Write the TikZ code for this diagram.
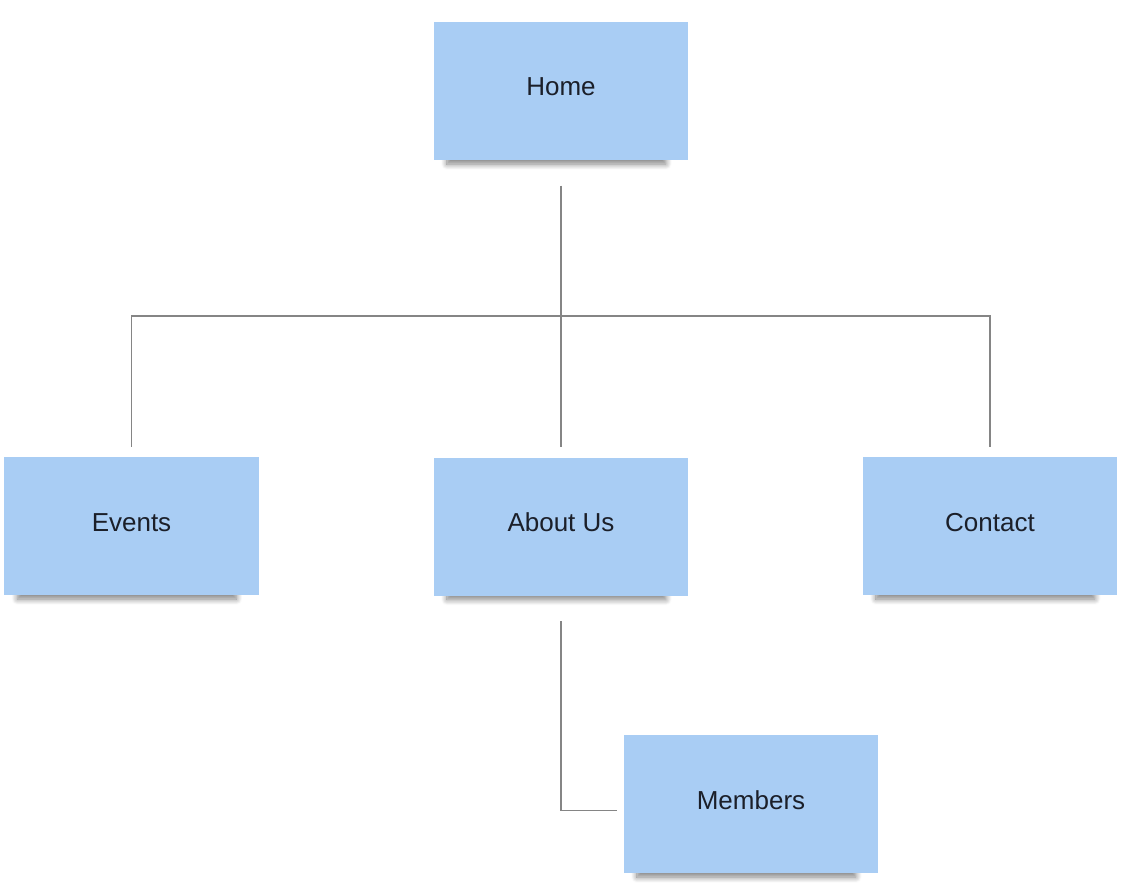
\documentclass[tikz,border=0pt]{standalone}
\usepackage{fontspec}
\setmainfont{Liberation Sans}
\usetikzlibrary{positioning, shadows.blur}
\definecolor{noteblue}{HTML}{A9CDF4}
\definecolor{notetext}{HTML}{1B1F29}
\definecolor{linkgray}{HTML}{858585}

\begin{document}
\begin{tikzpicture}[
				x=0.75pt, y=-0.75pt,
				note/.style={rectangle, fill=noteblue, align=center, minimum width=191pt, minimum
						height=103.5pt, inner sep=0pt, text=notetext, font=\fontsize{19.5}{23}\selectfont,
						text height=14pt, text depth=6.5pt,
						blur shadow={shadow xshift=-4pt, shadow yshift=-12pt, shadow scale=0.86, shadow blur radius=5pt, shadow blur steps=10, shadow opacity=50}},
				link/.style={draw=linkgray, line width=1.1pt}
			]
			\useasboundingbox (0,0) rectangle (1125,888);
			\node [note] (home) at (561,91) {Home};
			\node [note] (events) at (131.5,526) {Events};
			\node [note] (about) at (561,526.5) {About Us};
			\node [note] (contact) at (990,526) {Contact};
			\node [note] (members) at (751,804) {Members};

			\coordinate (hub) at (561,316);

			\path [link, shorten <=19pt] (home.south) -- (hub);
			\path [link, shorten >=7.5pt] (hub) -| (events.north);
			\path [link, shorten >=7.5pt] (hub) -- (about.north);
			\path [link, shorten >=7.5pt] (hub) -| (contact.north);
			\path [link, shorten <=19pt, shorten >=4.5pt] (about.south) |- ([yshift=-5pt]members.west);
		\end{tikzpicture}
\end{document}
